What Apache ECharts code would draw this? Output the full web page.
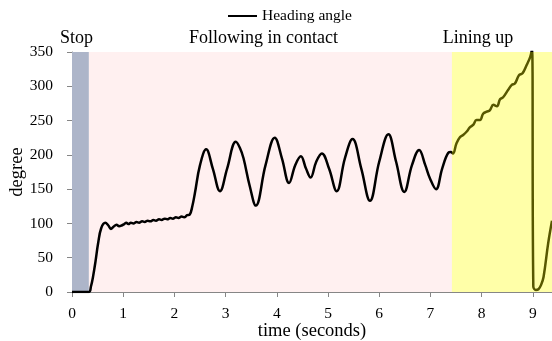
<!DOCTYPE html>
<html>
<head>
<meta charset="utf-8">
<script src="https://cdn.jsdelivr.net/npm/echarts@6/dist/echarts.min.js"></script>
<style>html,body{margin:0;padding:0;background:#fff}#c{width:552px;height:341px}</style>
</head>
<body>
<div id="c"></div>
<script>
// time (s)
var times = [0, 0.33, 0.37, 0.41, 0.46, 0.51, 0.57, 0.65, 0.71, 0.76, 0.81, 0.87, 0.92, 0.97, 1.02, 1.06,
  1.10, 1.15, 1.20, 1.26, 1.31, 1.37, 1.42, 1.48, 1.53, 1.59, 1.64, 1.70, 1.75, 1.81, 1.86, 1.92, 1.97,
  2.03, 2.08, 2.14, 2.19, 2.25, 2.30, 2.35, 2.40, 2.50, 2.62, 2.75, 2.89, 3.03, 3.20, 3.28, 3.35, 3.47,
  3.59, 3.78, 3.96, 4.10, 4.24, 4.36, 4.47, 4.57, 4.66, 4.77, 4.88, 5.02, 5.17, 5.33, 5.48, 5.65, 5.82,
  6.00, 6.18, 6.33, 6.49, 6.64, 6.78, 6.90, 6.99, 7.11, 7.23, 7.35, 7.40, 7.44,
  7.51, 7.58, 7.64, 7.71, 7.77, 7.84, 7.90, 7.97, 8.03, 8.10, 8.16, 8.23, 8.30, 8.36, 8.42, 8.52, 8.59,
  8.65, 8.73, 8.80, 8.88, 8.95, 8.985, 9.01, 9.06, 9.11, 9.16, 9.21, 9.30, 9.375];
// heading angle (degree)
var angles = [0, 0, 8, 22, 45, 71, 93, 101, 97, 92, 95, 98, 96, 97, 99, 101,
  99, 101, 100, 102, 101, 103, 102, 104, 103, 105, 104, 106, 105, 107, 106, 108, 107,
  109, 108, 110, 109, 112, 113, 125, 144, 185, 208, 180, 147, 180, 219, 210, 195, 155,
  126, 185, 225, 195, 159, 185, 198, 180, 167, 190, 202, 180, 147, 195, 223, 180, 133,
  190, 230, 190, 146, 185, 207, 185, 166, 150, 180, 203, 204, 202,
  217, 226, 229, 234, 240, 244, 251, 251, 260, 263, 265, 273, 271, 281, 284, 295, 302,
  304, 316, 319, 331, 343, 354, 8, 3, 4, 10, 22, 71, 104];
// phases (s)
var phaseNames = ['Stop', 'Following in contact', 'Lining up'];
var phaseStart = [0, 0.33, 7.42];
var phaseEnd = [0.33, 7.42, 9.375];
var seriesName = 'Heading angle';

var FONT = 'Liberation Serif';
var data = times.map(function (t, i) { return [t, angles[i]]; });

var chart = echarts.init(document.getElementById('c'));
chart.setOption({
  animation: false,
  backgroundColor: '#ffffff',
  textStyle: { fontFamily: FONT, color: '#000' },
  legend: {
    data: [seriesName],
    left: 228, top: 8, padding: 0,
    icon: 'rect', itemWidth: 29, itemHeight: 2, itemGap: 5,
    textStyle: { fontFamily: FONT, fontSize: 15.5, color: '#000' }
  },
  grid: { left: 72, right: 0, top: 52, bottom: 49, containLabel: false, outerBoundsMode: 'none' },
  xAxis: {
    type: 'value', min: 0, max: phaseEnd[2], interval: 1,
    name: 'time (seconds)', nameLocation: 'middle', nameGap: 30, nameMoveOverlap: false,
    nameTextStyle: { fontFamily: FONT, fontSize: 18.5, color: '#000' },
    axisLine: { show: true, lineStyle: { color: '#868686', width: 1 } },
    axisTick: { show: true, length: 5, lineStyle: { color: '#868686' } },
    splitLine: { show: false },
    axisLabel: { fontFamily: FONT, fontSize: 15.5, color: '#000', margin: 14,
      formatter: function (v) { return Math.abs(v - Math.round(v)) < 1e-9 ? String(Math.round(v)) : ''; } }
  },
  yAxis: {
    type: 'value', min: 0, max: 350, interval: 50,
    name: 'degree', nameLocation: 'middle', nameGap: 45, nameMoveOverlap: false,
    nameTextStyle: { fontFamily: FONT, fontSize: 18.5, color: '#000' },
    axisLine: { show: true, lineStyle: { color: '#868686', width: 1 } },
    axisTick: { show: true, length: 5, lineStyle: { color: '#868686' } },
    splitLine: { show: false },
    axisLabel: { fontFamily: FONT, fontSize: 15.5, color: '#000', margin: 19 }
  },
  series: [
    {
      name: seriesName, type: 'line', data: data, z: 3,
      showSymbol: false, symbol: 'none', smooth: 0.4, clip: true,
      lineStyle: { color: '#000', width: 2.5 },
      itemStyle: { color: '#000' },
      markArea: {
        silent: true, z: 1,
        label: { position: 'top', distance: 5, fontFamily: FONT, fontSize: 18, color: '#000' },
        data: [
          [{ name: phaseNames[0], xAxis: phaseStart[0], itemStyle: { color: '#adb5c9' }, label: { offset: [-4, 0] } },
           { xAxis: phaseEnd[0] }],
          [{ name: phaseNames[1], xAxis: phaseStart[1], itemStyle: { color: '#fff0f0' }, label: { offset: [-7, 0] } },
           { xAxis: phaseEnd[1] }]
        ]
      }
    },
    {
      name: 'overlay', type: 'line', data: [], z: 10,
      markArea: {
        silent: true, z: 10,
        label: { position: 'top', distance: 5, fontFamily: FONT, fontSize: 18, color: '#000', offset: [-24, 0] },
        itemStyle: { color: 'rgba(255,255,0,0.34)' },
        data: [
          [{ name: phaseNames[2], xAxis: phaseStart[2] }, { xAxis: phaseEnd[2] }]
        ]
      }
    }
  ]
});
</script>
</body>
</html>
